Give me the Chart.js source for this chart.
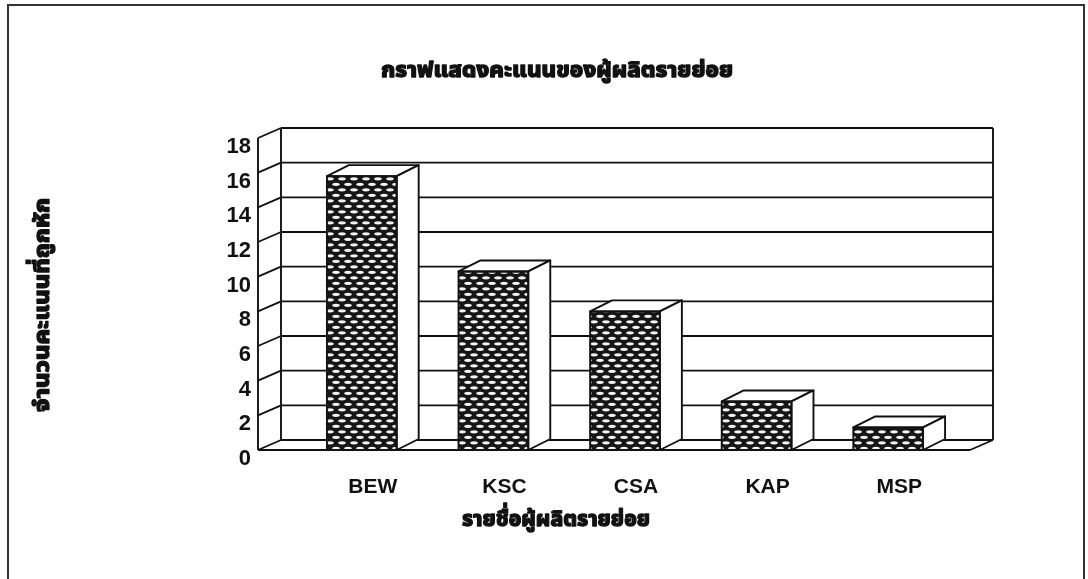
<!DOCTYPE html>
<html>
<head>
<meta charset="utf-8">
<script src="https://cdn.jsdelivr.net/npm/chart.js@4/dist/chart.umd.min.js"></script>
<style>
  html, body { margin: 0; padding: 0; background: #ffffff; }
  canvas { display: block; }
</style>
</head>
<body>
<canvas id="chart" width="1088" height="579"></canvas>
<script>
// Scores per small producer
const categories = ['BEW', 'KSC', 'CSA', 'KAP', 'MSP'];
const scores = [15.8, 10.3, 8, 2.8, 1.3];
const yTicks = [0, 2, 4, 6, 8, 10, 12, 14, 16, 18];

const chartTitle = 'กราฟแสดงคะแนนของผู้ผลิตรายย่อย';
const yAxisTitle = 'จำนวนคะแนนที่ถูกหัก';
const xAxisTitle = 'รายชื่อผู้ผลิตรายย่อย';

const INK = '#111111';
const THAI_FONT = "'Noto Sans Thai', 'Noto Sans Thai UI', 'Loma', 'Garuda', 'Noto Sans', sans-serif";
const LATIN_FONT = "'Liberation Sans', Arial, sans-serif";

// Depth of the 3D box (floor / walls) and of each column
const WALL_DEPTH = { x: 23, y: -10 };
const BAR_DEPTH = { x: 22, y: -11 };
// How far the floor reaches beyond the category band
const FLOOR_LEFT_EXTRA = 38;
const FLOOR_RIGHT_EXTRA = 16;

// Dark mesh fill for the column fronts
function makeMesh() {
  const t = document.createElement('canvas');
  t.width = 12; t.height = 11;
  const g = t.getContext('2d');
  g.fillStyle = '#161616';
  g.fillRect(0, 0, 12, 11);
  g.fillStyle = '#f4f4f4';
  const holes = [[6, 2.8], [0, 8.3], [12, 8.3]];
  holes.forEach(([cx, cy]) => {
    g.beginPath();
    g.ellipse(cx, cy, 3.8, 1.6, 0, 0, Math.PI * 2);
    g.fill();
  });
  return document.getElementById('chart').getContext('2d').createPattern(t, 'repeat');
}

function line(ctx, x1, y1, x2, y2) {
  ctx.beginPath();
  ctx.moveTo(x1, y1);
  ctx.lineTo(x2, y2);
  ctx.stroke();
}

// Walls, floor and grid of the 3D box
const boxPlugin = {
  id: 'box3d',
  beforeDatasetsDraw(chart) {
    const ctx = chart.ctx;
    const { left, right, top, bottom } = chart.chartArea;
    const ys = chart.scales.y;
    const fl = left - FLOOR_LEFT_EXTRA;
    const fr = right + FLOOR_RIGHT_EXTRA;
    const dx = WALL_DEPTH.x, dy = WALL_DEPTH.y;
    ctx.save();
    ctx.strokeStyle = INK;
    ctx.lineWidth = 1.9;
    yTicks.forEach(v => {
      const py = ys.getPixelForValue(v);
      line(ctx, fl + dx, py + dy, fr + dx, py + dy);   // back wall grid
      line(ctx, fl, py, fl + dx, py + dy);             // side wall grid
    });
    line(ctx, fl, top, fl, bottom);
    line(ctx, fl + dx, top + dy, fl + dx, bottom + dy);
    line(ctx, fr + dx, top + dy, fr + dx, bottom + dy);
    line(ctx, fl, bottom, fr, bottom);
    line(ctx, fr, bottom, fr + dx, bottom + dy);
    ctx.restore();
  },
  afterDatasetsDraw(chart) {
    const ctx = chart.ctx;
    const meta = chart.getDatasetMeta(0);
    const dx = BAR_DEPTH.x, dy = BAR_DEPTH.y;
    ctx.save();
    ctx.strokeStyle = INK;
    ctx.lineWidth = 1.9;
    ctx.lineJoin = 'round';
    ctx.fillStyle = '#ffffff';
    meta.data.forEach(bar => {
      const { x, y, base, width } = bar.getProps(['x', 'y', 'base', 'width'], true);
      const l = x - width / 2, r = x + width / 2;
      // top face
      ctx.beginPath();
      ctx.moveTo(l, y);
      ctx.lineTo(l + dx, y + dy);
      ctx.lineTo(r + dx, y + dy);
      ctx.lineTo(r, y);
      ctx.closePath();
      ctx.fill();
      ctx.stroke();
      // right side face
      ctx.beginPath();
      ctx.moveTo(r, y);
      ctx.lineTo(r + dx, y + dy);
      ctx.lineTo(r + dx, base + dy);
      ctx.lineTo(r, base);
      ctx.closePath();
      ctx.fill();
      ctx.stroke();
      // front outline
      ctx.strokeRect(l, y, width, base - y);
    });
    ctx.restore();
  }
};

// Heavy text drawn at a given width
function fittedText(ctx, text, cx, cy, width, font, angle) {
  ctx.save();
  ctx.font = font;
  ctx.textAlign = 'center';
  ctx.textBaseline = 'middle';
  const w = ctx.measureText(text).width;
  ctx.translate(cx, cy);
  if (angle) ctx.rotate(angle);
  ctx.scale(width / w, 1);
  ctx.lineWidth = 1.3;
  ctx.lineJoin = 'round';
  ctx.strokeText(text, 0, 0);
  ctx.fillText(text, 0, 0);
  ctx.restore();
}

const titlesPlugin = {
  id: 'titles',
  afterDraw(chart) {
    const ctx = chart.ctx;
    ctx.save();
    ctx.fillStyle = INK;
    ctx.strokeStyle = INK;
    const f = '800 22px ' + THAI_FONT;
    fittedText(ctx, chartTitle, 557, 73, 352, f, 0);
    fittedText(ctx, xAxisTitle, 556, 522, 188, f, 0);
    fittedText(ctx, yAxisTitle, 45, 305, 214, f, -Math.PI / 2);
    // page frame
    ctx.strokeStyle = '#333333';
    ctx.lineWidth = 2;
    ctx.strokeRect(8, 5, 1076, 590);
    ctx.restore();
  }
};

const ctx = document.getElementById('chart').getContext('2d');
new Chart(ctx, {
  type: 'bar',
  data: {
    labels: categories,
    datasets: [{
      data: scores,
      backgroundColor: makeMesh(),
      borderWidth: 0,
      categoryPercentage: 1,
      barPercentage: 0.53
    }]
  },
  options: {
    responsive: false,
    animation: false,
    events: [],
    layout: { padding: { left: 0, right: 134, top: 138, bottom: 79 } },
    plugins: {
      legend: { display: false },
      title: { display: false },
      tooltip: { enabled: false }
    },
    scales: {
      x: {
        offset: true,
        grid: { display: false, drawTicks: false },
        border: { display: false },
        ticks: {
          color: INK,
          font: { family: LATIN_FONT, size: 21, weight: 'bold' },
          padding: 25,
          labelOffset: 11,
          maxRotation: 0
        },
        afterFit(scale) { scale.height = 50; }
      },
      y: {
        min: 0,
        max: 18,
        grid: { display: false, drawTicks: false },
        border: { display: false },
        ticks: {
          stepSize: 2,
          color: INK,
          font: { family: LATIN_FONT, size: 22, weight: 'bold' },
          padding: 45,
          labelOffset: 9
        },
        afterFit(scale) { scale.width = 296; }
      }
    }
  },
  plugins: [boxPlugin, titlesPlugin]
});
</script>
</body>
</html>
